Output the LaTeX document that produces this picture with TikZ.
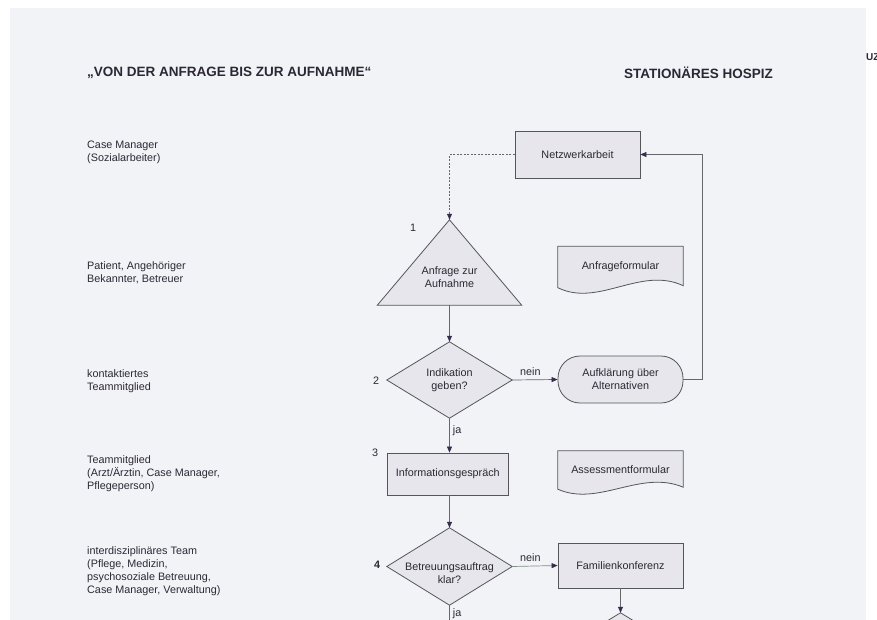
\documentclass[tikz,border=0pt]{standalone}
\usepackage{fontspec}
\setmainfont{Liberation Sans}
\usetikzlibrary{arrows.meta,calc,backgrounds}
\definecolor{paper}{HTML}{F2F3F7}
\definecolor{shapefill}{HTML}{E6E6EC}
\definecolor{edgecol}{HTML}{55555C}
\definecolor{linecol}{HTML}{66666C}
\definecolor{greenline}{HTML}{7A927E}
\definecolor{inkcol}{HTML}{2B2834}
\definecolor{tipcol}{HTML}{3A2C4E}
\begin{document}
\begin{tikzpicture}[x=1pt,y=-1pt,
  txt/.style={font=\fontsize{10.8}{13}\selectfont, text=inkcol, align=center, inner sep=0pt},
  lbl/.style={txt, align=left, anchor=west},
  ghost/.style={txt, shape=rectangle},
  boxn/.style={txt, shape=rectangle, draw=edgecol, fill=shapefill, line width=0.8pt},
  stadium/.style={boxn, rounded corners=22pt},
  outline/.style={draw=edgecol, fill=shapefill, line width=0.8pt},
  conn/.style={draw=linecol, line width=0.7pt, -{Triangle[length=6pt,width=5pt,color=tipcol]}},
  plainline/.style={draw=linecol, line width=0.7pt},
  dline/.style={conn, dash pattern=on 2pt off 1.5pt},
  numlbl/.style={txt}
]
\useasboundingbox (0,0) rectangle (877,620);

% titles
\node[anchor=west, font=\fontsize{13.5}{16}\selectfont\bfseries, text=inkcol, inner sep=0pt] (title) at (87,73) {„VON DER ANFRAGE BIS ZUR AUFNAHME“};
\node[anchor=west, font=\fontsize{13.5}{16}\selectfont\bfseries, text=inkcol, inner sep=0pt] (hospiz) at (624,73) {STATIONÄRES HOSPIZ};
\node[anchor=west, font=\fontsize{10}{12}\selectfont\bfseries, text=inkcol, inner sep=0pt] (uz) at (866,57) {UZ};

% left role labels
\node[lbl] (l1) at (87,152) {Case Manager\\(Sozialarbeiter)};
\node[lbl] (l2) at (87,273) {Patient, Angehöriger\\Bekannter, Betreuer};
\node[lbl] (l3) at (87,381) {kontaktiertes\\Teammitglied};
\node[lbl] (l4) at (87,474) {Teammitglied\\(Arzt/Ärztin, Case Manager,\\Pflegeperson)};
\node[lbl] (l5) at (87,571) {interdisziplinäres Team\\(Pflege, Medizin,\\psychosoziale Betreuung,\\Case Manager, Verwaltung)};

% flow nodes
\node[boxn, minimum width=125pt, minimum height=47pt] (nw) at (577.5,154.5) {Netzwerkarbeit};
\node[ghost, minimum width=144pt, minimum height=85pt] (tri) at (449.5,262.5) {};
\node[txt] (tritxt) at (449.5,277) {Anfrage zur\\Aufnahme};
\node[ghost, minimum width=125pt, minimum height=41pt] (af) at (620.5,267) {Anfrageformular};
\node[ghost, minimum width=125pt, minimum height=76pt] (d2) at (449.5,380) {Indikation\\geben?};
\node[stadium, minimum width=125pt, minimum height=47pt] (alt) at (620.5,379.5) {Aufklärung über\\Alternativen};
\node[boxn, minimum width=121pt, minimum height=42pt] (info) at (447.8,474) {Informationsgespräch};
\node[ghost, minimum width=125pt, minimum height=38pt] (as) at (620.5,470) {Assessmentformular};
\node[ghost, minimum width=125pt, minimum height=77pt] (d4) at (449.5,566.5) {};
\node[txt] (d4txt) at (449.5,573) {Betreuungsauftrag\\klar?};
\node[boxn, minimum width=125pt, minimum height=45pt] (fk) at (620.5,565.5) {Familienkonferenz};
\node[ghost, minimum width=125pt, minimum height=76pt] (d5) at (620.5,651) {};

% step numbers
\node[numlbl] (n1) at (413,228) {1};
\node[numlbl] (n2) at (376,381) {2};
\node[numlbl] (n3) at (375,453) {3};
\node[numlbl, font=\fontsize{10.8}{13}\selectfont\bfseries] (n4) at (377,565) {4};

\coordinate (rt) at (702,154.5);
\coordinate (bot) at (449.5,620);

% background: paper and shape outlines
\begin{scope}[on background layer]
  \clip (0,0) rectangle (877,620);
  \fill[white] (0,0) rectangle (877,620);
  \fill[paper] (10,8) rectangle (866,620);
  \path[outline] (tri.north) -- (tri.south east) -- (tri.south west) -- cycle;
  \path[outline] (d2.north) -- (d2.east) -- (d2.south) -- (d2.west) -- cycle;
  \path[outline] (d4.north) -- (d4.east) -- (d4.south) -- (d4.west) -- cycle;
  \path[outline] (d5.north) -- (d5.east) -- (d5.south) -- (d5.west) -- cycle;
  \path[outline] (af.north west) -- (af.north east) -- ($(af.south east)+(0,-2)$)
     .. controls ($(af.south)+(20,-22)$) and ($(af.south)+(-22,20)$) .. (af.south west) -- cycle;
  \path[outline] (as.north west) -- (as.north east) -- ($(as.south east)+(0,-2)$)
     .. controls ($(as.south)+(20,-20)$) and ($(as.south)+(-22,18)$) .. (as.south west) -- cycle;
\end{scope}

% connectors
\draw[dline] (nw.west) -| (tri.north);
\draw[conn] (tri.south) -- (d2.north);
\draw[conn] (d2.east) -- node[txt, above=4pt, pos=0.4] (nein1) {nein} (alt.west);
\draw[conn] (alt.east) -| (rt) -- (nw.east);
\draw[conn] (d2.south) -- node[txt, right=3pt, pos=0.35] (ja1) {ja} (d2.south |- info.north);
\draw[conn] (d4.north |- info.south) -- (d4.north);
\draw[conn, draw=greenline] (d4.east) -- node[txt, above=4pt, pos=0.4] (nein2) {nein} (fk.west);
\draw[conn] (fk.south) -- (d5.north);
\draw[plainline] (d4.south) -- node[txt, right=3pt, pos=0.55] (ja2) {ja} (bot);
\end{tikzpicture}
\end{document}
